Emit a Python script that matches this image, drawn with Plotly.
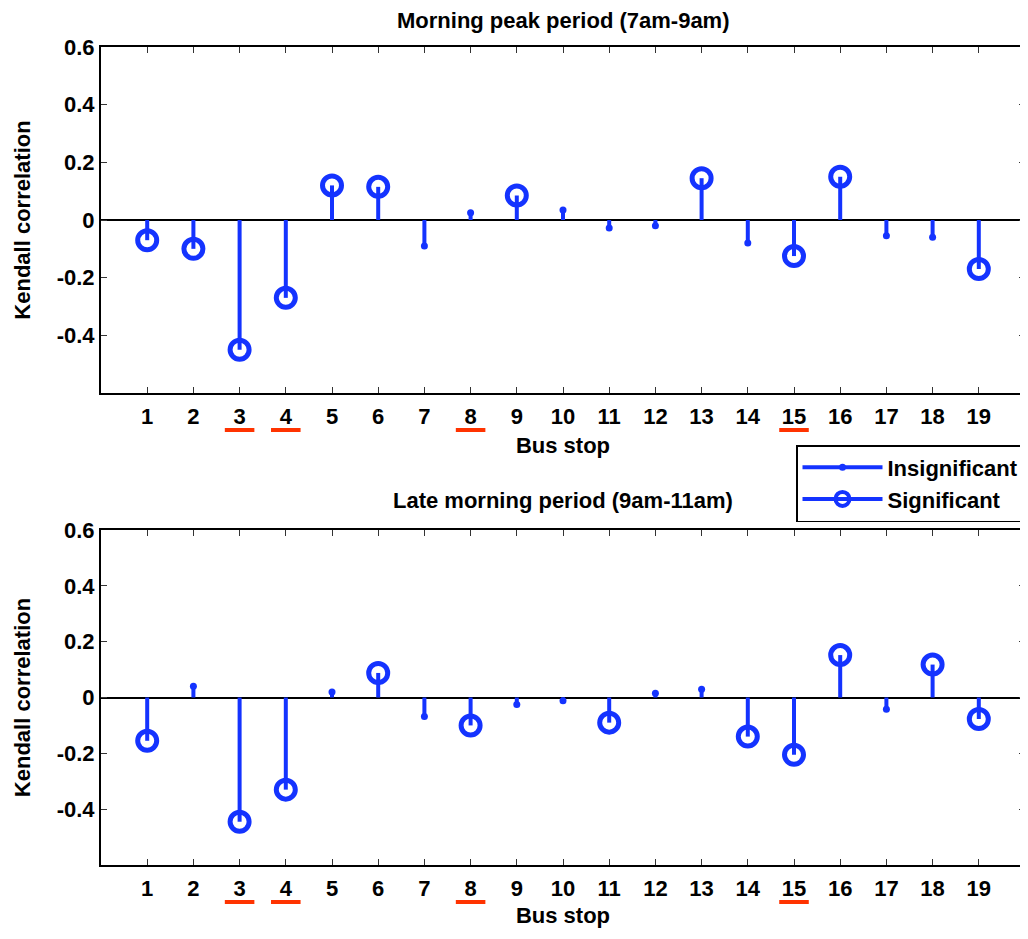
import plotly.graph_objects as go

# ---------------- data ----------------
stops = list(range(1, 20))
stop_labels = [str(s) for s in stops]

morning_tau = [-0.07, -0.10, -0.45, -0.27, 0.12, 0.115, -0.09, 0.025, 0.085, 0.035,
               -0.028, -0.02, 0.145, -0.08, -0.125, 0.15, -0.055, -0.06, -0.17]
morning_sig = [1, 1, 1, 1, 1, 1, 0, 0, 1, 0, 0, 0, 1, 0, 1, 1, 0, 0, 1]

late_tau = [-0.155, 0.04, -0.445, -0.33, 0.02, 0.088, -0.068, -0.10, -0.025, -0.012,
            -0.09, 0.015, 0.03, -0.14, -0.205, 0.152, -0.042, 0.118, -0.077]
late_sig = [1, 0, 1, 1, 0, 1, 0, 1, 0, 0, 1, 0, 0, 1, 1, 1, 0, 1, 1]

highlighted_stops = [3, 4, 8, 15]

panel_titles = ["Morning peak period (7am-9am)", "Late morning period (9am-11am)"]
y_tick_vals = [-0.4, -0.2, 0, 0.2, 0.4, 0.6]
y_tick_text = ["-0.4", "-0.2", "0", "0.2", "0.4", "0.6"]
legend_names = ["Insignificant", "Significant"]

# ---------------- style ----------------
BLUE = "#1433FF"
RED = "#FF3300"
FONT = "Liberation Sans, Arial, Helvetica, sans-serif"
FS = 22

fig = go.Figure()

panels = [(morning_tau, morning_sig, "x", "y"), (late_tau, late_sig, "x2", "y2")]
for tau, sig, xa, ya in panels:
    sx, sy = [], []
    for s, v in zip(stops, tau):
        sx += [s, s, None]
        sy += [0, v, None]
    fig.add_trace(go.Scatter(x=sx, y=sy, mode="lines", xaxis=xa, yaxis=ya,
                             line=dict(color=BLUE, width=4), showlegend=False,
                             hoverinfo="skip"))
    ins_x = [s for s, g in zip(stops, sig) if not g]
    ins_y = [v for v, g in zip(tau, sig) if not g]
    fig.add_trace(go.Scatter(x=ins_x, y=ins_y, mode="markers", xaxis=xa, yaxis=ya,
                             marker=dict(symbol="circle", size=7, color=BLUE),
                             showlegend=False))
    sig_x = [s for s, g in zip(stops, sig) if g]
    sig_y = [v for v, g in zip(tau, sig) if g]
    fig.add_trace(go.Scatter(x=sig_x, y=sig_y, mode="markers", xaxis=xa, yaxis=ya,
                             marker=dict(symbol="circle-open", size=19, color=BLUE,
                                         line=dict(width=5, color=BLUE)),
                             showlegend=False))

# legend entries
fig.add_trace(go.Scatter(x=[None], y=[None], mode="lines+markers", name=legend_names[0],
                         line=dict(color=BLUE, width=4),
                         marker=dict(symbol="circle", size=7, color=BLUE)))
fig.add_trace(go.Scatter(x=[None], y=[None], mode="lines+markers", name=legend_names[1],
                         line=dict(color=BLUE, width=4),
                         marker=dict(symbol="circle-open", size=14, color=BLUE,
                                     line=dict(width=4, color=BLUE))))

tick_font = dict(family=FONT, size=FS, color="black", weight="bold")
axis_common = dict(showline=True, linecolor="black", linewidth=2, mirror="ticks",
                   ticks="inside", ticklen=6, tickwidth=1, tickcolor="#333",
                   showgrid=False, tickfont=tick_font)

xaxis_common = dict(axis_common, range=[0, 20], tickvals=stops, ticktext=stop_labels,
                    zeroline=False, ticklabelstandoff=3)
yaxis_common = dict(axis_common, range=[-0.6, 0.6], tickvals=y_tick_vals, ticktext=y_tick_text,
                    zeroline=True, zerolinecolor="black", zerolinewidth=1.5,
                    title=dict(text="Kendall correlation", standoff=20, font=tick_font))

shapes = []
for s in highlighted_stops:
    for xr, yr in [("x", "y domain"), ("x2", "y2 domain")]:
        shapes.append(dict(type="line", xref=xr, yref=yr, ysizemode="pixel", yanchor=0,
                           x0=s - 0.32, x1=s + 0.32, y0=-37, y1=-37,
                           line=dict(color=RED, width=4)))

annotations = [
    dict(text=panel_titles[0], xref="paper", yref="paper", x=0.5, y=1.0318,
         xanchor="center", yanchor="middle", showarrow=False, font=tick_font),
    dict(text=panel_titles[1], xref="paper", yref="paper", x=0.5, y=0.4462,
         xanchor="center", yanchor="middle", showarrow=False, font=tick_font),
]

# page body adds an 8px margin, so the figure is 8px smaller than the window
fig.update_layout(
    width=1020, height=923,
    margin=dict(l=93, r=1, t=39, b=66),
    paper_bgcolor="white", plot_bgcolor="white",
    xaxis=dict(xaxis_common, anchor="y", domain=[0, 1],
               title=dict(text="Bus stop", standoff=9, font=tick_font)),
    yaxis=dict(yaxis_common, anchor="x", domain=[0.5770, 1]),
    xaxis2=dict(xaxis_common, anchor="y2", domain=[0, 1],
                title=dict(text="Bus stop", standoff=7, font=tick_font)),
    yaxis2=dict(yaxis_common, anchor="x2", domain=[0, 0.4095]),
    shapes=shapes,
    annotations=annotations,
    legend=dict(x=1, xanchor="right", y=0.5134, yanchor="top",
                bgcolor="white", bordercolor="black", borderwidth=1.5,
                font=tick_font, itemwidth=80, tracegroupgap=0),
    font=dict(family=FONT, size=FS, color="black"),
)

fig.write_html("out.html")
